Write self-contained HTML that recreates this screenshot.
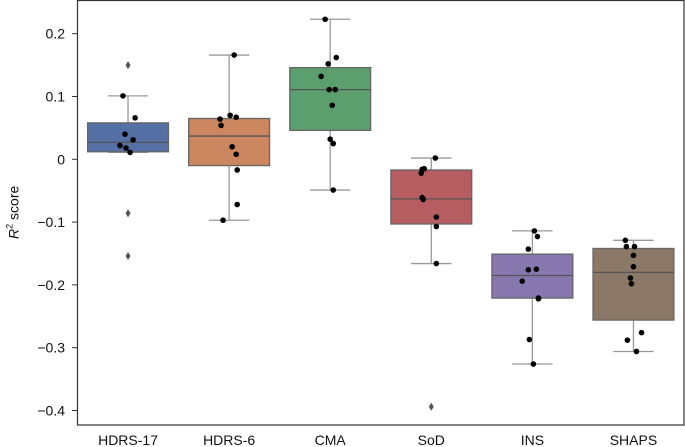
<!DOCTYPE html>
<html><head><meta charset="utf-8"><style>
body{margin:0;background:#fff;}
svg{display:block;font-family:"Liberation Sans",sans-serif;}
</style></head><body>
<svg id="c" width="685" height="447"></svg>
<script>
const categories=["HDRS-17","HDRS-6","CMA","SoD","INS","SHAPS"];
const colors=["#5470a4","#cc8660","#5b9f6f","#b65d61","#8677ae","#8c7866"];
const q1=[0.012,-0.010,0.046,-0.103,-0.221,-0.256];
const medians=[0.027,0.037,0.111,-0.063,-0.185,-0.180];
const q3=[0.058,0.065,0.146,-0.017,-0.151,-0.142];
const whiskLo=[0.011,-0.097,-0.049,-0.166,-0.326,-0.306];
const whiskHi=[0.101,0.166,0.223,0.002,-0.114,-0.129];
const outliers=[[0.150,-0.086,-0.154],[],[],[-0.394],[],[]];
const points=[
 [0.101,0.066,0.040,0.031,0.022,0.018,0.011],
 [0.166,0.064,0.070,0.067,0.054,0.020,0.008,-0.017,-0.072,-0.097],
 [0.223,0.162,0.152,0.132,0.111,0.111,0.086,0.032,0.025,-0.049],
 [0.002,-0.015,-0.016,-0.022,-0.061,-0.064,-0.092,-0.107,-0.166],
 [-0.114,-0.123,-0.143,-0.176,-0.175,-0.194,-0.221,-0.222,-0.287,-0.326],
 [-0.129,-0.139,-0.139,-0.153,-0.171,-0.189,-0.198,-0.276,-0.288,-0.306]];
const jitter=[
 [-0.05,0.07,-0.03,0.05,-0.08,-0.02,0.02],
 [0.05,-0.09,0.01,0.07,-0.08,0.03,0.07,0.08,0.08,-0.06],
 [-0.05,0.06,-0.02,-0.09,-0.01,0.05,0.02,0,0.03,0.03],
 [0.04,-0.07,-0.09,-0.1,-0.09,-0.08,0.05,0.05,0.05],
 [0.02,0.05,-0.04,-0.04,0.04,-0.1,0.06,0.06,-0.03,0.01],
 [-0.08,-0.07,0.01,0,0,-0.03,-0.02,0.08,-0.06,0.03]];
const yTicks=[0.2,0.1,0,-0.1,-0.2,-0.3,-0.4];
const yTickLabels=["0.2","0.1","0","\u22120.1","\u22120.2","\u22120.3","\u22120.4"];
const L=77.5,R=684,T=0.5,B=425;
const y=v=>159.3-628*v;
const step=(R-L)/categories.length;
const x=i=>L+step*(i+0.5);
const svg=document.getElementById('c');
const NS="http://www.w3.org/2000/svg";
function mk(tag,attrs,parent){const e=document.createElementNS(NS,tag);for(const k in attrs)e.setAttribute(k,attrs[k]);(parent||svg).appendChild(e);return e;}
categories.forEach((c,i)=>{
 const g=mk('g',{});
 
 
 const cx=x(i),hw=step*0.4,cw=step*0.2;
 mk('line',{x1:cx,x2:cx,y1:y(whiskHi[i]),y2:y(q3[i]),stroke:'#999','stroke-width':1.3},g);
 mk('line',{x1:cx,x2:cx,y1:y(q1[i]),y2:y(whiskLo[i]),stroke:'#999','stroke-width':1.3},g);
 mk('line',{x1:cx-cw,x2:cx+cw,y1:y(whiskHi[i]),y2:y(whiskHi[i]),stroke:'#999','stroke-width':1.3},g);
 mk('line',{x1:cx-cw,x2:cx+cw,y1:y(whiskLo[i]),y2:y(whiskLo[i]),stroke:'#999','stroke-width':1.3},g);
 mk('rect',{x:cx-hw,y:y(q3[i]),width:2*hw,height:y(q1[i])-y(q3[i]),fill:colors[i],stroke:'#666','stroke-width':1.3},g);
 mk('line',{x1:cx-hw,x2:cx+hw,y1:y(medians[i]),y2:y(medians[i]),stroke:'#555','stroke-width':1.3},g);
 outliers[i].forEach(v=>{
  const o=mk('path',{d:`M${cx},${y(v)-4}L${cx+2.5},${y(v)}L${cx},${y(v)+4}L${cx-2.5},${y(v)}Z`,fill:'#555'},g);
  
  
 });
 points[i].forEach((v,j)=>{
  const p=mk('circle',{cx:cx+jitter[i][j]*step,cy:y(v),r:2.8,fill:'#000'},g);
  
  
 });
 const t=mk('text',{x:cx,y:445,'text-anchor':'middle','font-size':14,fill:'#111'});
 t.textContent=c;
 
 
});
yTicks.forEach((v,i)=>{
 mk('line',{x1:72,x2:L,y1:y(v),y2:y(v),stroke:'#333','stroke-width':1});
 const t=mk('text',{x:65,y:y(v)+5,'text-anchor':'end','font-size':14,fill:'#111'});
 t.textContent=yTickLabels[i];
 
 
});
const f=mk('rect',{x:L,y:T,width:R-L,height:B-T,fill:'none',stroke:'#333','stroke-width':1.2});


</script>
<svg width="0" height="0"></svg>
<div style="position:absolute;left:0;top:0;width:685px;height:447px;pointer-events:none">
<div style="position:absolute;left:-22px;top:204px;width:70px;text-align:center;transform:rotate(-90deg);font:14px 'Liberation Sans',sans-serif;color:#111"><i>R</i><sup style="font-size:9px">2</sup> score</div>
</div>
</body></html>
